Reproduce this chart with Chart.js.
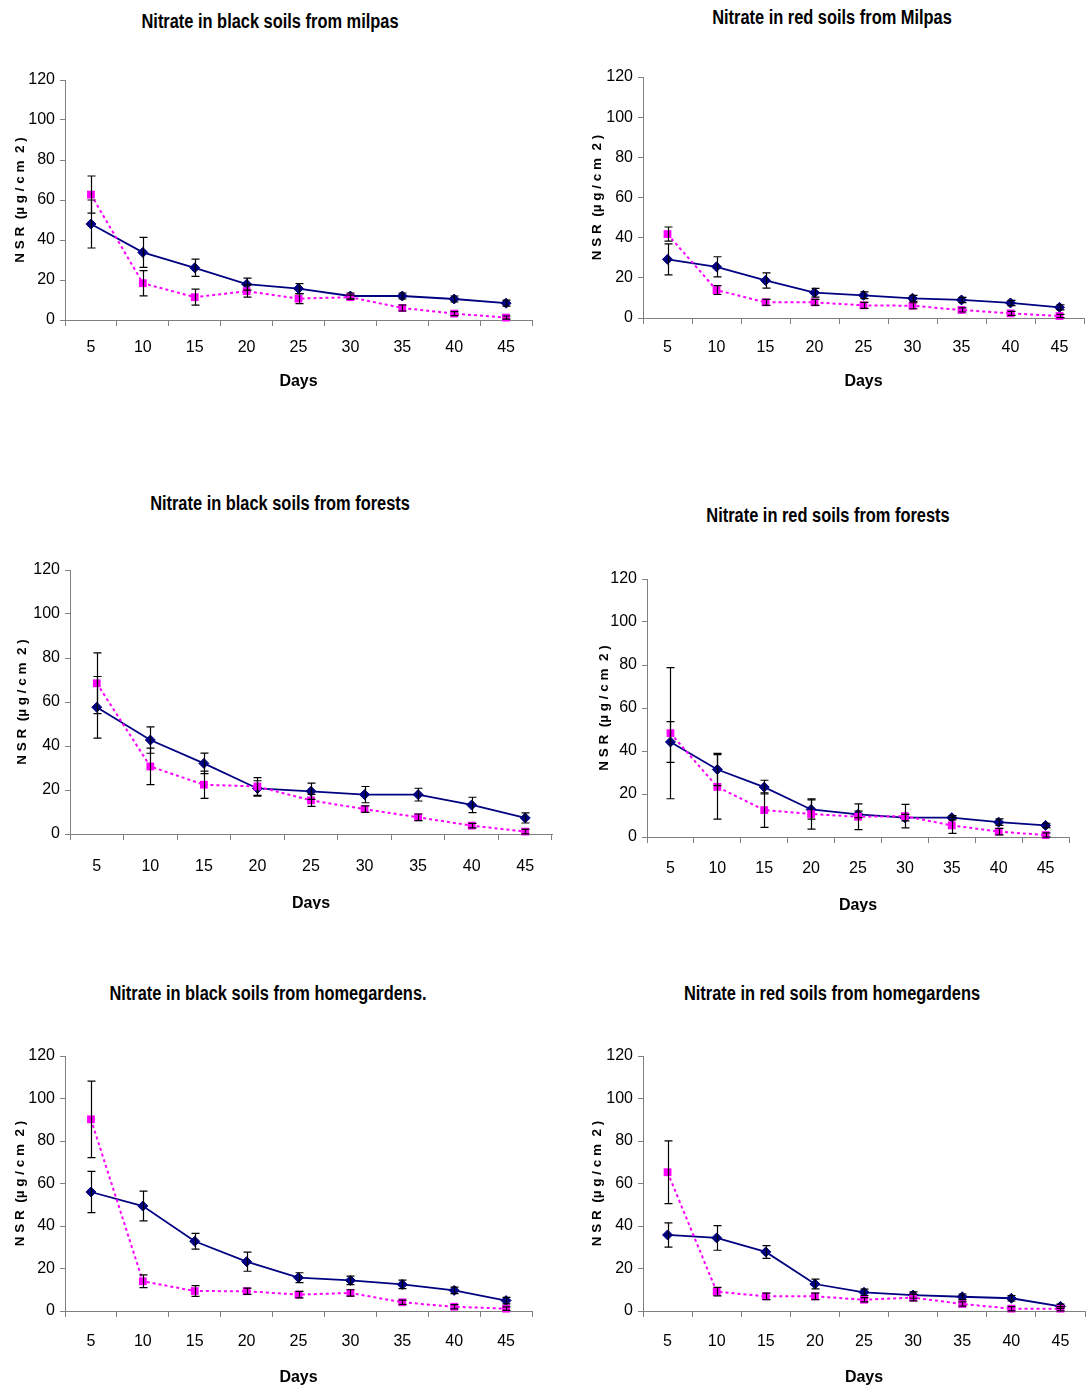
<!DOCTYPE html>
<html>
<head>
<meta charset="utf-8">
<title>Nitrate release in soils</title>
<script src="https://cdn.jsdelivr.net/npm/chart.js@4.4.0/dist/chart.umd.min.js"></script>
<style>
  body { margin: 0; background: #fff; width: 1086px; height: 1392px; position: relative; overflow: hidden; }
  canvas { position: absolute; }
  /* narrow bold heading: regular sans squeezed horizontally */
  .ptitle {
    position: absolute; white-space: nowrap; line-height: 1; color: #000;
    font: bold 20px "Liberation Sans", Arial, sans-serif;
    transform: translate(-50%, -50%) scaleX(0.82);
  }
</style>
</head>
<body>
<script>
const days = ['5', '10', '15', '20', '25', '30', '35', '40', '45'];
const yTicks = [0, 20, 40, 60, 80, 100, 120];

// black soils, milpas
const milpasBlackA    = [48, 33.8, 26.1, 17.9, 15.7, 12, 12, 10.5, 8.4];
const milpasBlackAErr = [12, 7.5, 4.3, 3, 2.5, 1.5, 1.5, 1.5, 1.5];
const milpasBlackB    = [62.7, 18.4, 11.4, 14.4, 10.7, 11.4, 6, 3.2, 1.2];
const milpasBlackBErr = [9.3, 6.3, 4, 3, 2.5, 1, 1.5, 1, 0.8];

// red soils, milpas
const milpasRedA    = [29.2, 25.5, 18.7, 12.6, 11.3, 9.8, 9, 7.5, 5.3];
const milpasRedAErr = [7.7, 5, 3.8, 2.2, 1.7, 1.5, 1.3, 1.3, 1.3];
const milpasRedB    = [41.8, 13.9, 7.8, 7.8, 6.3, 6.1, 4, 2.3, 1];
const milpasRedBErr = [3.5, 2.2, 1.5, 1.5, 1.5, 1.5, 1, 1, 0.8];

// black soils, forests
const forestBlackA    = [57.6, 42.7, 32.1, 20.7, 19.4, 17.9, 17.9, 13.2, 7.3];
const forestBlackAErr = [14, 6, 4.7, 3.5, 3.7, 3.7, 2.9, 3.5, 2.3];
const forestBlackB    = [68.5, 30.7, 22.4, 21.6, 15.3, 11.3, 7.6, 3.8, 1.1];
const forestBlackBErr = [13.8, 8.3, 6.2, 4, 2.7, 1.5, 1.5, 1, 1];

// red soils, forests
const forestRedA    = [44.2, 31.4, 23.2, 12.8, 10.5, 9, 9, 6.9, 5.4];
const forestRedAErr = [9.5, 7.5, 3.2, 4.5, 1.5, 1.5, 1, 1.5, 1];
const forestRedB    = [48.3, 23.3, 12.5, 10.7, 9.4, 9.7, 5.4, 2.5, 0.9];
const forestRedBErr = [30.5, 15, 8, 7, 6, 5.5, 3.7, 1.5, 1];

// black soils, homegardens
const gardenBlackA    = [56, 49.4, 32.8, 23.2, 15.7, 14.4, 12.5, 9.7, 4.9];
const gardenBlackAErr = [9.7, 7, 3.7, 4.5, 2.3, 2, 2, 1.5, 1.5];
const gardenBlackB    = [90.2, 14, 9.4, 9.3, 7.7, 8.5, 4.1, 2, 1.1];
const gardenBlackBErr = [18, 3, 2.5, 1.5, 1.5, 1.5, 1, 1, 0.8];

// red soils, homegardens
const gardenRedA    = [35.8, 34.4, 27.8, 12.7, 8.8, 7.5, 6.7, 6, 2.2];
const gardenRedAErr = [5.7, 5.8, 3, 2.3, 1.5, 1.5, 1.3, 1.3, 1];
const gardenRedB    = [65.3, 9.1, 6.9, 6.9, 5.3, 6.3, 3.3, 1.1, 1.1];
const gardenRedBErr = [14.8, 2, 1.5, 1.5, 1, 1.5, 1, 1, 1];

const SANS = '"Liberation Sans", Arial, sans-serif';
const AXIS_GREY = '#808080';

// plot box of each panel in page pixels (left/right of x axis, y of 120 and 0)
const panels = [
  { title: 'Nitrate in black soils from milpas', tx: 270, ty: 21,
    left: 65, right: 532, top: 80, bottom: 320, yTitleX: 20, tickY: 347, daysY: 382,
    a: milpasBlackA, aErr: milpasBlackAErr, b: milpasBlackB, bErr: milpasBlackBErr },
  { title: 'Nitrate in red soils from Milpas', tx: 832, ty: 17,
    left: 643, right: 1084, top: 77, bottom: 318, yTitleX: 597, tickY: 347, daysY: 382,
    a: milpasRedA, aErr: milpasRedAErr, b: milpasRedB, bErr: milpasRedBErr },
  { title: 'Nitrate in black soils from forests', tx: 280, ty: 503,
    left: 70, right: 552, top: 570, bottom: 834, yTitleX: 22, tickY: 866, daysY: 904,
    a: forestBlackA, aErr: forestBlackAErr, b: forestBlackB, bErr: forestBlackBErr },
  { title: 'Nitrate in red soils from forests', tx: 828, ty: 515,
    left: 647, right: 1069, top: 579, bottom: 837, yTitleX: 604, tickY: 868, daysY: 906,
    a: forestRedA, aErr: forestRedAErr, b: forestRedB, bErr: forestRedBErr },
  { title: 'Nitrate in black soils from homegardens.', tx: 268, ty: 993,
    left: 65, right: 532, top: 1056, bottom: 1311, yTitleX: 20, tickY: 1341, daysY: 1378,
    a: gardenBlackA, aErr: gardenBlackAErr, b: gardenBlackB, bErr: gardenBlackBErr },
  { title: 'Nitrate in red soils from homegardens', tx: 832, ty: 993,
    left: 643, right: 1085, top: 1056, bottom: 1311, yTitleX: 597, tickY: 1341, daysY: 1378,
    a: gardenRedA, aErr: gardenRedAErr, b: gardenRedB, bErr: gardenRedBErr }
];

// vertical error bars with caps, drawn over the markers
const errorBars = {
  id: 'errorBars',
  afterDatasetsDraw(chart) {
    const ctx = chart.ctx;
    const y = chart.scales.y;
    ctx.save();
    ctx.strokeStyle = '#000';
    ctx.lineWidth = 1.2;
    chart.data.datasets.forEach((ds, i) => {
      const meta = chart.getDatasetMeta(i);
      meta.data.forEach((pt, j) => {
        const e = ds.errors[j];
        const yHi = y.getPixelForValue(ds.data[j] + e);
        const yLo = y.getPixelForValue(ds.data[j] - e);
        const x = Math.round(pt.x) + 0.5;
        ctx.beginPath();
        ctx.moveTo(x, yHi); ctx.lineTo(x, yLo);
        ctx.moveTo(x - 4, yHi); ctx.lineTo(x + 4, yHi);
        ctx.moveTo(x - 4, yLo); ctx.lineTo(x + 4, yLo);
        ctx.stroke();
      });
    });
    ctx.restore();
  }
};

function buildPanel(p) {
  const mL = 70, mT = 15, mR = 6, mB = 75;
  const cLeft = p.left - mL, cTop = p.top - mT;
  const w = p.right - p.left + mL + mR;
  const h = p.bottom - p.top + mT + mB;

  const head = document.createElement('div');
  head.className = 'ptitle';
  head.textContent = p.title;
  head.style.left = p.tx + 'px';
  head.style.top = p.ty + 'px';
  document.body.appendChild(head);

  const canvas = document.createElement('canvas');
  canvas.width = w;
  canvas.height = h;
  canvas.style.left = cLeft + 'px';
  canvas.style.top = cTop + 'px';
  canvas.style.width = w + 'px';
  canvas.style.height = h + 'px';
  document.body.appendChild(canvas);

  const tickFont = { family: SANS, size: 16 };
  const yTitleFont = { family: SANS, size: 13.5, weight: 'bold' };
  const daysFont = { family: SANS, size: 16, weight: 'bold' };

  new Chart(canvas.getContext('2d'), {
    type: 'line',
    data: {
      labels: days,
      datasets: [
        {
          label: 'A', data: p.a, errors: p.aErr, order: 1,
          borderColor: '#000080', backgroundColor: '#000080', borderWidth: 1.8,
          pointStyle: 'rectRot', pointRadius: 5, pointBorderWidth: 1,
          tension: 0, clip: false
        },
        {
          label: 'B', data: p.b, errors: p.bErr, order: 0,
          borderColor: '#ff00ff', backgroundColor: '#ff00ff', borderWidth: 2,
          borderDash: [3, 3],
          pointStyle: 'rect', pointRadius: 5.5, pointBorderWidth: 0,
          tension: 0, clip: false
        }
      ]
    },
    options: {
      responsive: false,
      animation: false,
      devicePixelRatio: 1,
      layout: { padding: { left: 0, top: mT, right: mR, bottom: 0 } },
      plugins: { legend: { display: false }, tooltip: { enabled: false } },
      scales: {
        x: {
          type: 'category',
          offset: true,
          afterFit(scale) { scale.height = mB; },
          grid: { drawOnChartArea: false, offset: true, tickLength: 6, color: AXIS_GREY },
          border: { color: AXIS_GREY, width: 1 },
          ticks: {
            color: '#000', maxRotation: 0, autoSkip: false,
            font: tickFont,
            padding: p.tickY - p.bottom - 6 - 9
          },
          title: {
            display: true, text: 'Days', color: '#000', font: daysFont,
            padding: { top: 0, bottom: (p.bottom + mB - p.daysY) - 9.6 }
          }
        },
        y: {
          min: 0, max: 120,
          afterFit(scale) { scale.width = mL; },
          afterBuildTicks(scale) { scale.ticks = yTicks.map(v => ({ value: v })); },
          grid: { drawOnChartArea: false, tickLength: 5, color: AXIS_GREY },
          border: { color: AXIS_GREY, width: 1 },
          ticks: { color: '#000', padding: 5, font: tickFont },
          title: {
            display: true, text: 'N S R  (µ g / c m  2 )', color: '#000', font: yTitleFont,
            padding: { top: (p.yTitleX - cLeft) - 8.1, bottom: 0 }
          }
        }
      }
    },
    plugins: [errorBars]
  });
}

panels.forEach(buildPanel);
</script>
</body>
</html>
